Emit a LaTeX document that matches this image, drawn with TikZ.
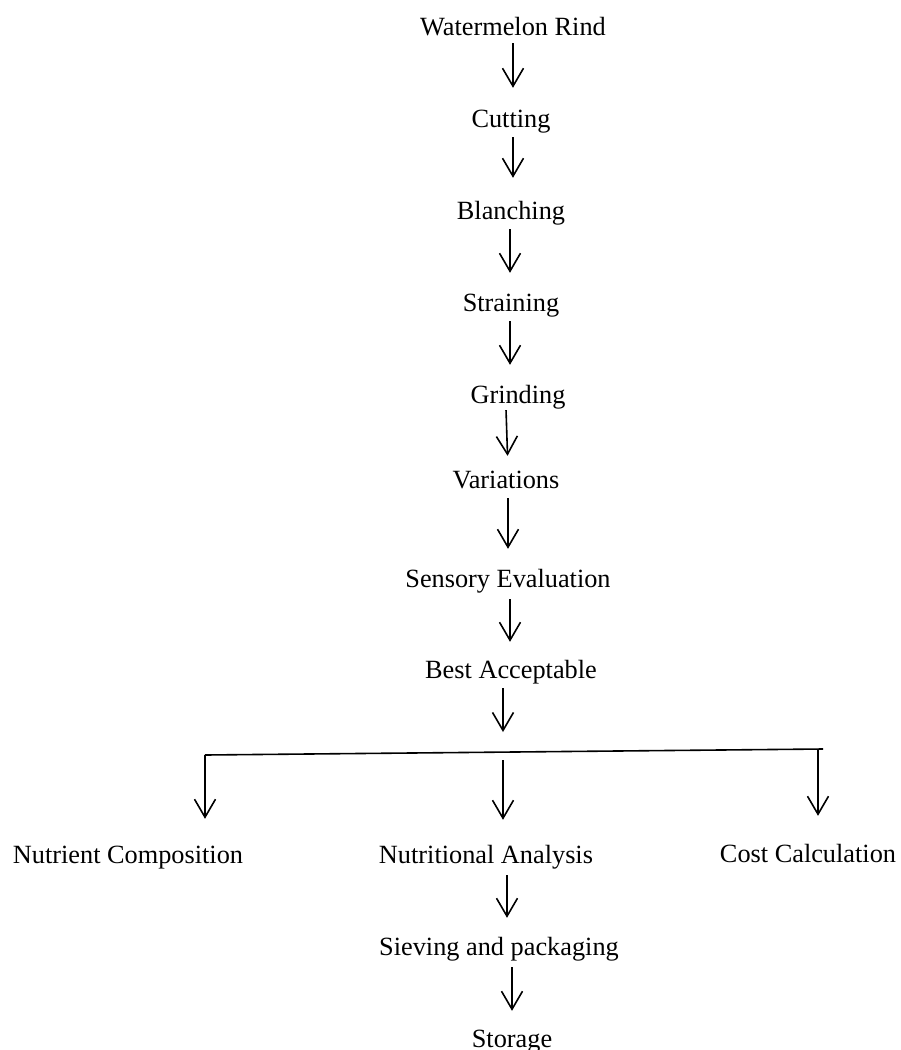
\documentclass[tikz,border=0pt]{standalone}
\usepackage{fontspec}
\setmainfont{Liberation Serif}
\usetikzlibrary{arrows.meta}
\begin{document}
\begin{tikzpicture}[x=1pt,y=-1pt,
  lbl/.style={inner sep=0pt,anchor=base,text height=18pt,text depth=6pt,font=\fontsize{26.3}{31}\selectfont},
  arr/.style={line width=1.6pt,-{Straight Barb[length=18pt,width=21pt,line width=1.6pt]},shorten <=4pt,shorten >=20pt},
  ln/.style={line width=1.6pt}]
\useasboundingbox (0,0) rectangle (900,1050);
\node[lbl] (wr) at (513,35) {Watermelon Rind};
\node[lbl] (cu) at (511,127) {Cutting};
\node[lbl] (bl) at (511,219) {Blanching};
\node[lbl] (st) at (511,311) {Straining};
\node[lbl] (gr) at (518,403) {Grinding};
\node[lbl] (va) at (506,488) {Variations};
\node[lbl] (se) at (508,587) {Sensory Evaluation};
\node[lbl] (ba) at (511,678) {Best Acceptable};
\node[lbl] (nc) at (128,863) {Nutrient Composition};
\node[lbl] (na) at (486,863) {Nutritional Analysis};
\node[lbl] (cc) at (808,862) {Cost Calculation};
\node[lbl] (sp) at (499,955) {Sieving and packaging};
\node[lbl] (sg) at (512,1047) {Storage};
\draw[arr,shorten <=2pt,shorten >=21pt] (wr.south) -- (wr.south |- cu.north);
\draw[arr,shorten <=4pt,shorten >=23pt] ([xshift=2pt]cu.south) -- ([xshift=2pt]cu.south |- bl.north);
\draw[arr] ([xshift=-1pt]bl.south) -- ([xshift=-1pt]bl.south |- st.north);
\draw[arr] ([xshift=-1pt]st.south) -- ([xshift=-1pt]st.south |- gr.north);
\draw[arr,shorten <=1pt,shorten >=14pt] ([xshift=-12pt]gr.south) -- ([xshift=2pt]va.north);
\draw[arr] ([xshift=2pt]va.south) -- ([xshift=2pt]va.south |- se.north);
\draw[arr,shorten <=6pt,shorten >=18pt] ([xshift=2pt]se.south) -- ([xshift=2pt]se.south |- ba.north);
\coordinate (bt) at (503,732);
\draw[arr,shorten <=4pt,shorten >=0pt] (ba.south -| bt) -- (bt);
\coordinate (hl) at (205,755);
\coordinate (hr) at (823,749);
\draw[ln] (hl) -- (hr);
\draw[arr,shorten <=0pt,shorten >=26pt] (hl) -- (hl |- nc.north);
\draw[arr,shorten <=0pt,shorten >=28pt] ([xshift=-5pt]hr) -- ([xshift=-5pt]hr |- cc.north);
\coordinate (hm) at (503,760);
\draw[arr,shorten <=0pt,shorten >=25pt] (hm) -- (hm |- na.north);
\draw[arr,shorten <=6pt,shorten >=19pt] ([xshift=21pt]na.south) -- ([xshift=21pt]na.south |- sp.north);
\draw[arr,shorten <=6pt,shorten >=18pt] ([xshift=13pt]sp.south) -- ([xshift=13pt]sp.south |- sg.north);
\end{tikzpicture}
\end{document}
